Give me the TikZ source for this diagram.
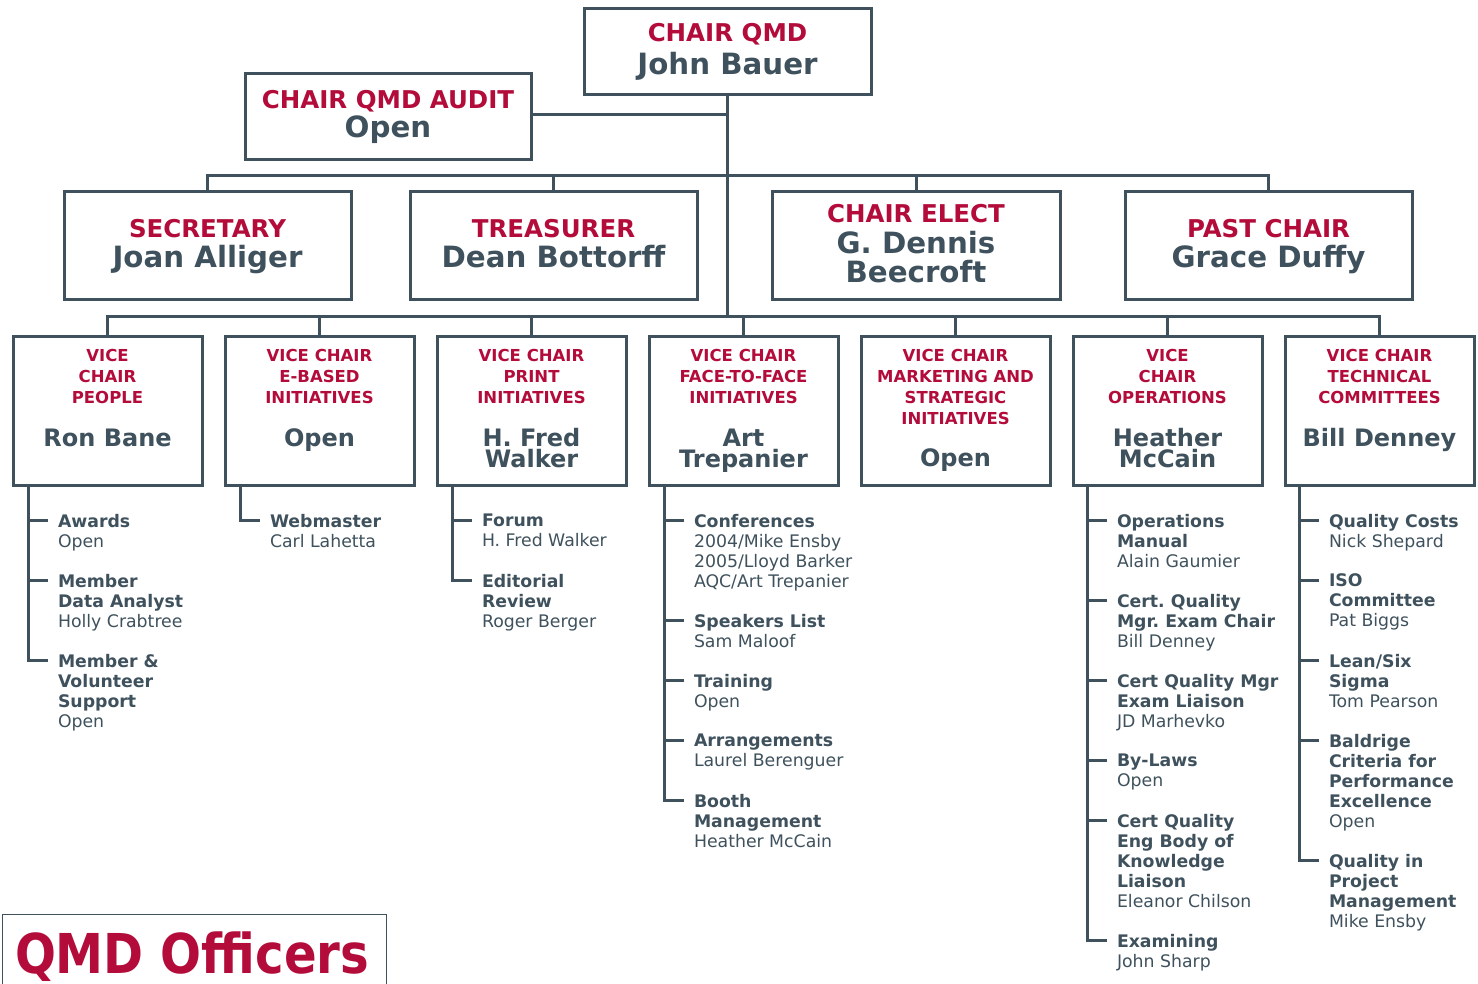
\documentclass[tikz,border=0pt]{standalone}
\usepackage{fontspec}
\setmainfont{DejaVu Sans}
\definecolor{qred}{HTML}{B30C3A}
\definecolor{qgrey}{HTML}{3E515C}
\tikzset{
  conn/.style={draw=qgrey, line width=3pt},
  box/.style={draw=qgrey, line width=3pt, fill=white, inner sep=0pt, outer sep=0pt},
  ttl/.style={text=qred, font=\bfseries\fontsize{24.5}{29}\selectfont, inner sep=0pt, outer sep=0pt, anchor=north, align=center},
  nm/.style={text=qgrey, font=\bfseries\fontsize{29.3}{29}\selectfont, inner sep=0pt, outer sep=0pt, anchor=north, align=center},
  vttl/.style={text=qred, font=\bfseries\fontsize{16.5}{21}\selectfont, inner sep=0pt, outer sep=0pt, anchor=north, align=center},
  vnm/.style={text=qgrey, font=\bfseries\fontsize{24}{21}\selectfont, inner sep=0pt, outer sep=0pt, anchor=north, align=center},
  item/.style={text=qgrey, font=\fontsize{17.3}{20}\selectfont, inner sep=0pt, outer sep=0pt, anchor=north west, align=left},
}
\begin{document}
\frenchspacing
\begin{tikzpicture}[x=1pt,y=-1pt]
\useasboundingbox (0,0) rectangle (1478,983);
% boxes
\node[box, minimum width=287, minimum height=86] (chair) at (727.5,51) {};
\node[box, minimum width=286, minimum height=86] (audit) at (388,116) {};
\node[box, minimum width=287, minimum height=108] (sec) at (207.5,245) {};
\node[box, minimum width=287, minimum height=108] (treas) at (553.5,245) {};
\node[box, minimum width=288, minimum height=108] (elect) at (916,245) {};
\node[box, minimum width=287, minimum height=108] (past) at (1268.5,245) {};
\foreach \i/\cx in {1/107.5,2/319.5,3/531.5,4/743.5,5/955.5,6/1167.5,7/1379.5}
  \node[box, minimum width=189, minimum height=149] (v\i) at (\cx,410.5) {};
% connectors between officer boxes
\coordinate (b2) at (0,175);
\coordinate (b3) at (0,316.5);
\coordinate (ae) at ([yshift=2pt]audit.east);
\draw[conn] (chair.south) -- (chair.south |- b3);
\draw[conn] (ae) -- (ae -| chair.south);
\draw[conn] (sec.north) -- (sec.north |- b2) -- (past.north |- b2) -- (past.north);
\draw[conn] (treas.north) -- (treas.north |- b2);
\draw[conn] (elect.north) -- (elect.north |- b2);
\draw[conn] (v1.north) -- (v1.north |- b3) -- (v7.north |- b3) -- (v7.north);
\foreach \i in {2,...,6} \draw[conn] (v\i.north) -- (v\i.north |- b3);
% officer texts
\node[ttl] (chairT) at (727.5,23.5) {CHAIR QMD};
\node[nm] (chairN) at (727.5,52) {John Bauer};
\node[ttl] (auditT) at (388,90.5) {CHAIR QMD AUDIT};
\node[nm] (auditN) at (388,116) {Open};
\node[ttl] (secT) at (207.5,219.5) {SECRETARY};
\node[nm] (secN) at (207.5,245) {Joan Alliger};
\node[ttl] (treasT) at (553.5,219.5) {TREASURER};
\node[nm] (treasN) at (553.5,245) {Dean Bottorff};
\node[ttl] (electT) at (916,204.5) {CHAIR ELECT};
\node[nm] (electN) at (916,231) {G. Dennis\\Beecroft};
\node[ttl] (pastT) at (1268.5,219.5) {PAST CHAIR};
\node[nm] (pastN) at (1268.5,245) {Grace Duffy};
% vice chair texts
\node[vttl] (v1T) at (107.5,349) {VICE\\CHAIR\\PEOPLE};
\node[vnm] (v1N) at (107.5,428.5) {Ron Bane};
\node[vttl] (v2T) at (319.5,349) {VICE CHAIR\\E-BASED\\INITIATIVES};
\node[vnm] (v2N) at (319.5,428.5) {Open};
\node[vttl] (v3T) at (531.5,349) {VICE CHAIR\\PRINT\\INITIATIVES};
\node[vnm] (v3N) at (531.5,428.5) {H. Fred\\Walker};
\node[vttl] (v4T) at (743.5,349) {VICE CHAIR\\FACE-TO-FACE\\INITIATIVES};
\node[vnm] (v4N) at (743.5,428.5) {Art\\Trepanier};
\node[vttl] (v5T) at (955.5,349) {VICE CHAIR\\MARKETING AND\\STRATEGIC\\INITIATIVES};
\node[vnm] (v5N) at (955.5,448.5) {Open};
\node[vttl] (v6T) at (1167.5,349) {VICE\\CHAIR\\OPERATIONS};
\node[vnm] (v6N) at (1167.5,428.5) {Heather\\McCain};
\node[vttl] (v7T) at (1379.5,349) {VICE CHAIR\\TECHNICAL\\COMMITTEES};
\node[vnm] (v7N) at (1379.5,428.5) {Bill Denney};
% column 1
\node[item] (a1) at (58,514) {\textbf{Awards}\\Open};
\node[item] (a2) at (58,574) {\textbf{Member}\\\textbf{Data Analyst}\\Holly Crabtree};
\node[item] (a3) at (58,654) {\textbf{Member \&}\\\textbf{Volunteer}\\\textbf{Support}\\Open};
% column 2
\node[item] (b1) at (270,514) {\textbf{Webmaster}\\Carl Lahetta};
% column 3
\node[item] (c1) at (482,514) {\textbf{Forum}\\H. Fred Walker};
\node[item] (c2) at (482,574) {\textbf{Editorial}\\\textbf{Review}\\Roger Berger};
% column 4
\node[item] (d1) at (694,514) {\textbf{Conferences}\\2004/Mike Ensby\\2005/Lloyd Barker\\AQC/Art Trepanier};
\node[item] (d2) at (694,614) {\textbf{Speakers List}\\Sam Maloof};
\node[item] (d3) at (694,674) {\textbf{Training}\\Open};
\node[item] (d4) at (694,734) {\textbf{Arrangements}\\Laurel Berenguer};
\node[item] (d5) at (694,794) {\textbf{Booth}\\\textbf{Management}\\Heather McCain};
% column 6
\node[item] (f1) at (1117,514) {\textbf{Operations}\\\textbf{Manual}\\Alain Gaumier};
\node[item] (f2) at (1117,594) {\textbf{Cert. Quality}\\\textbf{Mgr. Exam Chair}\\Bill Denney};
\node[item] (f3) at (1117,674) {\textbf{Cert Quality Mgr}\\\textbf{Exam Liaison}\\JD Marhevko};
\node[item] (f4) at (1117,754) {\textbf{By-Laws}\\Open};
\node[item] (f5) at (1117,814) {\textbf{Cert Quality}\\\textbf{Eng Body of}\\\textbf{Knowledge}\\\textbf{Liaison}\\Eleanor Chilson};
\node[item] (f6) at (1117,934) {\textbf{Examining}\\John Sharp};
% column 7
\node[item] (g1) at (1329,514) {\textbf{Quality Costs}\\Nick Shepard};
\node[item] (g2) at (1329,574) {\textbf{ISO}\\\textbf{Committee}\\Pat Biggs};
\node[item] (g3) at (1329,654) {\textbf{Lean/Six}\\\textbf{Sigma}\\Tom Pearson};
\node[item] (g4) at (1329,734) {\textbf{Baldrige}\\\textbf{Criteria for}\\\textbf{Performance}\\\textbf{Excellence}\\Open};
\node[item] (g5) at (1329,854) {\textbf{Quality in}\\\textbf{Project}\\\textbf{Management}\\Mike Ensby};
% spines and ticks
\foreach \v/\x/\last/\others in {1/28/a3/{a1,a2},2/240/b1/{},3/452/c2/{c1},4/664/d5/{d1,d2,d3,d4},6/1087/f6/{f1,f2,f3,f4,f5},7/1299/g5/{g1,g2,g3,g4}}{
  \coordinate (sp\v) at (\x,0);
  \draw[conn] (v\v.south -| sp\v) |- ([xshift=-10pt,yshift=-6pt]\last.north west);
  \foreach \o in \others {
    \draw[conn] ([xshift=-10pt,yshift=-6pt]\o.north west) -- ([yshift=-6pt]\o.north west -| sp\v);
  }
}
% title box (its lower edge lies below the page)
\node[draw=qgrey, line width=1pt, minimum width=384, minimum height=85, anchor=north west,
      inner sep=0pt] (qmdbox) at (1.5,913.5) {};
\node[text=qred, font=\bfseries\fontsize{48.2}{50}\selectfont, inner sep=0pt, outer sep=0pt,
      anchor=base west] (qmd) at (15,973) {\scalebox{1}[1.14]{QMD Officers}};
\end{tikzpicture}
\end{document}
